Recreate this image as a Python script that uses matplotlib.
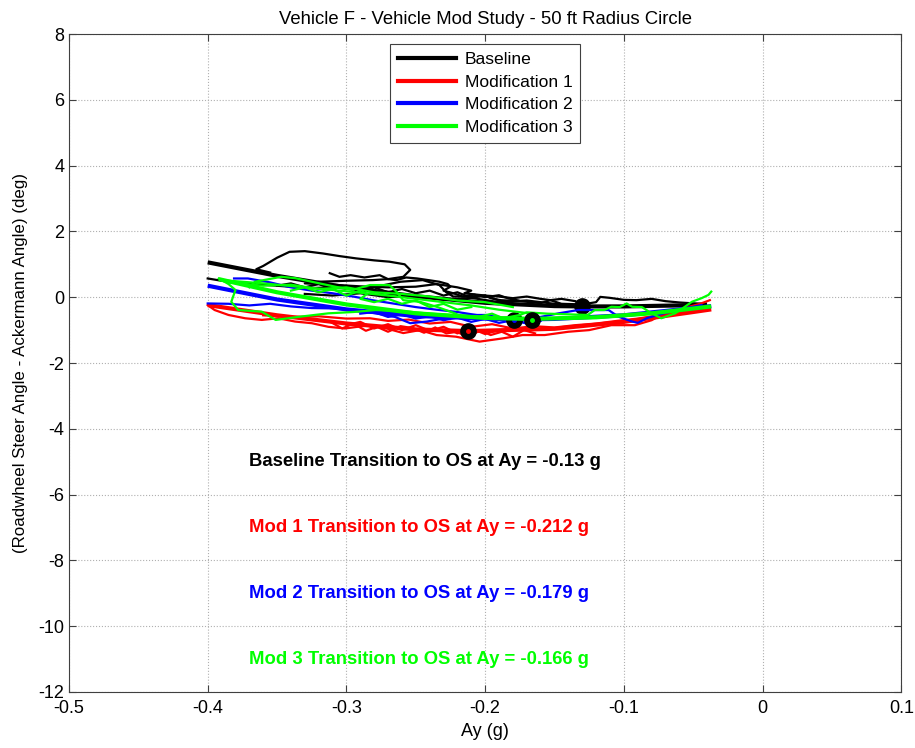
import matplotlib
matplotlib.use("Agg")
import matplotlib.pyplot as plt
from matplotlib.lines import Line2D

plt.rcParams['font.family'] = ['Liberation Sans', 'DejaVu Sans']
plt.rcParams['axes.unicode_minus'] = False

title = "Vehicle F - Vehicle Mod Study - 50 ft Radius Circle"
xlabel = "Ay (g)"
ylabel = "(Roadwheel Steer Angle - Ackermann Angle) (deg)"
series_names = ["Baseline", "Modification 1", "Modification 2", "Modification 3"]
series_colors = ["#000000", "#ff0000", "#0000ff", "#00ff00"]

xticks = [-0.5, -0.4, -0.3, -0.2, -0.1, 0, 0.1]
xtick_labels = ["-0.5", "-0.4", "-0.3", "-0.2", "-0.1", "0", "0.1"]
yticks = [-12, -10, -8, -6, -4, -2, 0, 2, 4, 6, 8]

# ---- raw traces ----
base_raw = [
    ([-0.355, -0.365, -0.36, -0.35, -0.341, -0.33, -0.317, -0.305, -0.293, -0.28, -0.269, -0.258,
      -0.254, -0.259, -0.27, -0.281, -0.30, -0.32, -0.33, -0.31, -0.29, -0.27, -0.25, -0.235,
      -0.22, -0.21, -0.215, -0.20, -0.19, -0.18, -0.17, -0.16, -0.153, -0.145, -0.135],
     [0.75, 0.85, 0.95, 1.2, 1.38, 1.4, 1.33, 1.25, 1.18, 1.12, 1.08, 1.0,
      0.83, 0.62, 0.55, 0.52, 0.5, 0.47, 0.42, 0.38, 0.33, 0.3, 0.32, 0.4,
      0.3, 0.2, 0.12, 0.05, 0.02, -0.03, 0.02, -0.05, -0.09, -0.05, -0.12]),
    ([-0.40, -0.39, -0.377, -0.36, -0.341, -0.325, -0.31, -0.29, -0.275, -0.261, -0.245, -0.233,
      -0.228, -0.223, -0.211, -0.2, -0.196, -0.189, -0.175, -0.16, -0.153, -0.145, -0.13, -0.12,
      -0.117, -0.11, -0.10, -0.091, -0.08, -0.07, -0.06, -0.045],
     [0.57, 0.5, 0.43, 0.38, 0.32, 0.28, 0.3, 0.22, 0.35, 0.47, 0.52, 0.37,
      0.15, 0.02, 0.02, 0.05, -0.03, -0.09, -0.12, -0.18, -0.09, -0.2, -0.22, -0.15,
      0.01, -0.02, -0.08, -0.09, -0.05, -0.12, -0.16, -0.2]),
    ([-0.33, -0.31, -0.29, -0.27, -0.25, -0.23, -0.21, -0.19, -0.17, -0.15, -0.13],
     [0.1, 0.05, 0.12, 0.0, 0.05, -0.08, -0.02, -0.15, -0.1, -0.2, -0.25]),
    ([-0.312, -0.305, -0.297, -0.287, -0.276, -0.27, -0.264, -0.257, -0.249, -0.241, -0.233,
      -0.227, -0.225, -0.23, -0.223, -0.216, -0.208, -0.2, -0.19, -0.183, -0.176],
     [0.73, 0.62, 0.67, 0.6, 0.67, 0.55, 0.52, 0.6, 0.57, 0.52, 0.47,
      0.4, 0.32, 0.2, 0.12, 0.02, 0.08, 0.0, 0.06, -0.04, -0.1]),
    ([-0.35, -0.34, -0.33, -0.32, -0.31, -0.3, -0.29, -0.28, -0.27, -0.26, -0.25, -0.24,
      -0.23, -0.22, -0.21, -0.2, -0.19],
     [0.35, 0.42, 0.3, 0.4, 0.25, 0.35, 0.18, 0.3, 0.15, 0.25, 0.12, 0.2,
      0.05, 0.15, -0.02, 0.05, -0.1]),
]
red_raw = [
    ([-0.40, -0.395, -0.385, -0.373, -0.361, -0.349, -0.337, -0.325, -0.313, -0.301, -0.283,
      -0.271, -0.259, -0.247, -0.235, -0.221, -0.204, -0.187, -0.173, -0.157, -0.14, -0.125,
      -0.109, -0.092, -0.08, -0.073, -0.063, -0.053, -0.045, -0.038],
     [-0.24, -0.39, -0.54, -0.64, -0.69, -0.64, -0.74, -0.79, -0.9, -0.95, -0.85,
      -0.95, -1.09, -1.0, -1.15, -1.2, -1.35, -1.25, -1.15, -1.15, -1.05, -1.0,
      -0.85, -0.85, -0.7, -0.54, -0.5, -0.29, -0.2, -0.09]),
    ([-0.36, -0.34, -0.32, -0.3, -0.283, -0.27, -0.255, -0.24, -0.225, -0.21, -0.195, -0.18,
      -0.165, -0.15, -0.135, -0.12, -0.105, -0.09, -0.075, -0.06, -0.045],
     [-0.55, -0.6, -0.58, -0.65, -0.64, -0.72, -0.68, -0.8, -0.75, -0.9, -0.82, -0.95,
      -0.88, -0.92, -0.85, -0.8, -0.72, -0.65, -0.55, -0.45, -0.35]),
    ([-0.312, -0.303, -0.295, -0.286, -0.278, -0.27, -0.261, -0.252, -0.244, -0.236, -0.228,
      -0.22, -0.212, -0.204, -0.196, -0.188, -0.18, -0.172, -0.164],
     [-0.74, -0.95, -0.8, -1.02, -0.9, -1.05, -0.88, -0.94, -1.08, -0.92, -1.1,
      -1.05, -1.25, -1.0, -1.15, -1.05, -1.2, -1.0, -1.1]),
    ([-0.3, -0.29, -0.28, -0.27, -0.26, -0.25, -0.24, -0.23, -0.22, -0.21, -0.2, -0.19],
     [-0.85, -0.75, -0.95, -0.82, -1.0, -0.85, -1.02, -0.9, -1.1, -0.95, -1.12, -1.0]),
]
blue_raw = [
    ([-0.40, -0.385, -0.37, -0.355, -0.34, -0.325, -0.31, -0.295, -0.279, -0.265, -0.254,
      -0.242, -0.226, -0.211, -0.199, -0.188, -0.177, -0.16, -0.147, -0.133, -0.111, -0.104,
      -0.094, -0.09, -0.083, -0.072, -0.061, -0.044],
     [-0.19, -0.2, -0.25, -0.2, -0.28, -0.33, -0.34, -0.4, -0.49, -0.6, -0.79,
      -0.74, -0.62, -0.54, -0.54, -0.66, -0.74, -0.6, -0.49, -0.39, -0.39, -0.59,
      -0.74, -0.78, -0.63, -0.5, -0.39, -0.24]),
    ([-0.381, -0.371, -0.355, -0.34, -0.325, -0.31, -0.295, -0.28, -0.265, -0.25, -0.235,
      -0.22, -0.205, -0.19],
     [0.57, 0.57, 0.45, 0.3, 0.2, 0.12, 0.02, -0.1, -0.2, -0.3, -0.38, -0.45, -0.55, -0.6]),
    ([-0.29, -0.28, -0.27, -0.26, -0.25, -0.24, -0.23, -0.22, -0.21, -0.2, -0.19, -0.18,
      -0.17, -0.16],
     [-0.5, -0.45, -0.6, -0.52, -0.65, -0.58, -0.7, -0.62, -0.75, -0.66, -0.78, -0.7,
      -0.8, -0.72]),
]
green_raw = [
    ([-0.392, -0.385, -0.38, -0.383, -0.378, -0.361, -0.351, -0.335, -0.313, -0.295, -0.279,
      -0.26, -0.24, -0.22, -0.2, -0.18, -0.16, -0.14, -0.12],
     [0.57, 0.4, 0.22, -0.14, -0.39, -0.44, -0.69, -0.6, -0.49, -0.45, -0.39,
      -0.42, -0.5, -0.55, -0.6, -0.62, -0.65, -0.66, -0.6]),
    ([-0.37, -0.366, -0.347, -0.337, -0.325, -0.308, -0.296, -0.283, -0.269, -0.264, -0.259,
      -0.247, -0.235, -0.225, -0.216, -0.204, -0.195, -0.187, -0.175, -0.17, -0.155,
      -0.14, -0.126, -0.121, -0.114, -0.109, -0.103, -0.098, -0.094, -0.087, -0.08, -0.073,
      -0.063, -0.056, -0.051, -0.044, -0.039, -0.037],
     [0.3, 0.47, 0.62, 0.58, 0.47, 0.32, 0.22, 0.37, 0.37, 0.17, -0.09,
      -0.14, -0.29, -0.44, -0.59, -0.59, -0.5, -0.64, -0.54, -0.46, -0.5,
      -0.52, -0.54, -0.39, -0.39, -0.29, -0.3, -0.19, -0.29, -0.3, -0.49, -0.64,
      -0.49, -0.29, -0.14, -0.03, 0.07, 0.17]),
    ([-0.385, -0.36, -0.34, -0.32, -0.3, -0.28, -0.26, -0.24, -0.22, -0.2, -0.18],
     [0.45, 0.35, 0.38, 0.25, 0.3, 0.15, 0.1, 0.02, -0.1, -0.15, -0.3]),
    ([-0.39, -0.36, -0.33, -0.3, -0.27, -0.24, -0.21, -0.19, -0.17],
     [0.52, 0.42, 0.3, 0.18, 0.05, -0.1, -0.25, -0.38, -0.48]),
    ([-0.34, -0.33, -0.32, -0.31, -0.3, -0.29, -0.285, -0.29, -0.28, -0.27, -0.26, -0.25,
      -0.24, -0.23, -0.22, -0.21],
     [0.2, 0.3, 0.15, 0.25, 0.05, 0.2, 0.1, -0.05, -0.15, -0.05, -0.2, -0.1,
      -0.3, -0.2, -0.38, -0.3]),
]

# ---- fitted curves ----
base_fit_x = [-0.40, -0.35, -0.30, -0.25, -0.20, -0.15, -0.13, -0.10, -0.06, -0.04]
base_fit_y = [1.06, 0.65, 0.30, 0.03, -0.17, -0.27, -0.28, -0.28, -0.25, -0.22]
red_fit_x = [-0.40, -0.35, -0.30, -0.25, -0.212, -0.15, -0.10, -0.05, -0.037]
red_fit_y = [-0.24, -0.55, -0.80, -0.98, -1.03, -0.96, -0.75, -0.45, -0.37]
blue_fit_x = [-0.40, -0.35, -0.30, -0.25, -0.179, -0.15, -0.10, -0.05, -0.037]
blue_fit_y = [0.35, -0.07, -0.37, -0.57, -0.68, -0.66, -0.55, -0.33, -0.27]
green_fit_x = [-0.392, -0.35, -0.30, -0.25, -0.20, -0.166, -0.12, -0.08, -0.037]
green_fit_y = [0.55, 0.15, -0.22, -0.49, -0.63, -0.66, -0.61, -0.49, -0.28]

# ---- transition points ----
trans_x = [-0.13, -0.212, -0.179, -0.166]
trans_y = [-0.28, -1.03, -0.68, -0.68]

annotations = [
    "Baseline Transition to OS at Ay = -0.13 g",
    "Mod 1 Transition to OS at Ay = -0.212 g",
    "Mod 2 Transition to OS at Ay = -0.179 g",
    "Mod 3 Transition to OS at Ay = -0.166 g",
]
annot_y = [-5, -7, -9, -11]
annot_x = -0.37

fig = plt.figure(figsize=(9.15, 7.48), dpi=100)
ax = fig.add_axes([0.0754, 0.0749, 0.9096, 0.8796])

raws = [base_raw, red_raw, blue_raw, green_raw]
fits = [(base_fit_x, base_fit_y), (red_fit_x, red_fit_y), (blue_fit_x, blue_fit_y), (green_fit_x, green_fit_y)]
z = 3
for raw, (fx, fy), col, mx, my in zip(raws, fits, series_colors, trans_x, trans_y):
    for tx, ty in raw:
        ax.plot(tx, ty, color=col, lw=1.6, zorder=z)
    ax.plot(fx, fy, color=col, lw=3.0, zorder=z + 0.1, solid_capstyle='butt')
    ax.plot(mx, my, 'o', ms=11, mfc='black', mec='black', zorder=z + 0.2)
    ax.plot(mx, my, 'o', ms=2.5, mfc=col, mec=col, zorder=z + 0.3)
    z += 1

for txt, yy, col in zip(annotations, annot_y, series_colors):
    ax.text(annot_x, yy, txt, color=col, fontsize=13.3, fontweight='bold', va='center', ha='left')

ax.set_xlim(-0.5, 0.1)
ax.set_ylim(-12, 8)
ax.set_xticks(xticks)
ax.set_xticklabels(xtick_labels)
ax.set_yticks(yticks)
ax.grid(True, linestyle=':', color='#b0b0b0', lw=0.8)
ax.set_axisbelow(True)
ax.tick_params(direction='in', labelsize=13, length=5, color='#404040', top=True, right=True)
ax.tick_params(axis='x', pad=6)
for s in ax.spines.values():
    s.set_color('#404040')
ax.set_title(title, fontsize=13.3, pad=7)
ax.set_xlabel(xlabel, fontsize=13, labelpad=4)
ax.set_ylabel(ylabel, fontsize=12.2, labelpad=7)

handles = [Line2D([0], [0], color=c, lw=3) for c in series_colors]
leg = ax.legend(handles, series_names, loc='upper center', bbox_to_anchor=(0.5, 0.985),
                borderaxespad=0, fontsize=12.6, fancybox=False, edgecolor='#404040', framealpha=1,
                handlelength=3.3, handletextpad=0.5, borderpad=0.45, labelspacing=0.42)
leg.get_frame().set_linewidth(0.8)
leg.set_zorder(20)

fig.savefig("out.png", dpi=100)
